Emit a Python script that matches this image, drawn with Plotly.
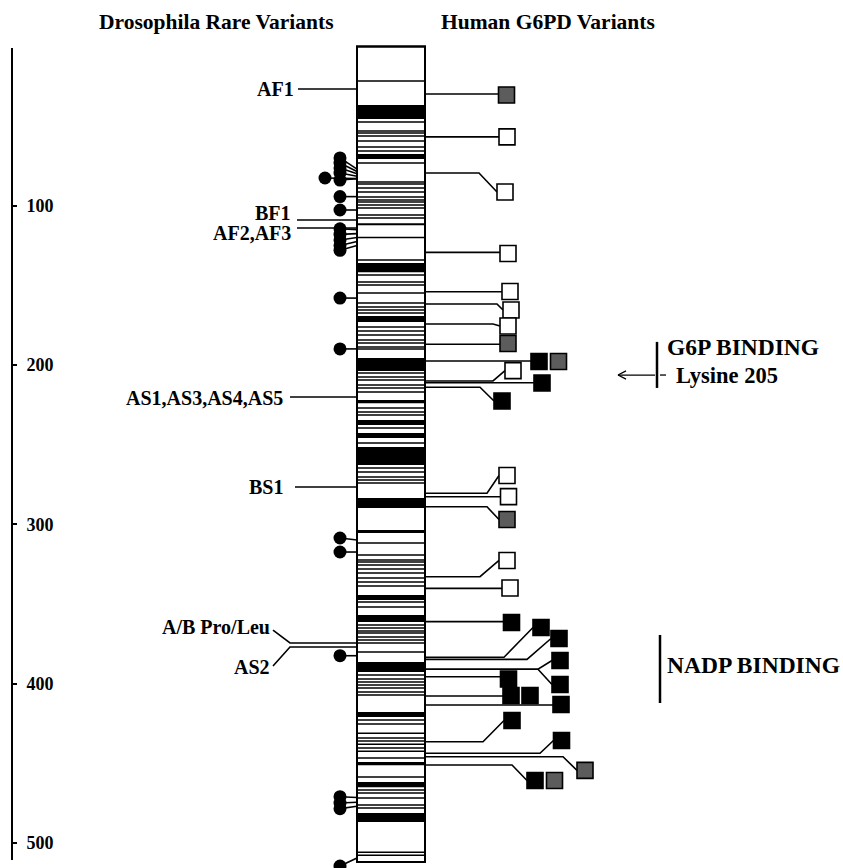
import plotly.graph_objects as go

# ---------------- data (residue numbers) ----------------
PROTEIN_LEN = 512
axis_ticks = [1, 100, 200, 300, 400, 500]
axis_ticktext = ["", "100", "200", "300", "400", "500"]

# conserved / structural stripes drawn on the protein bar
band_start = [36.8, 67.5, 111.0, 136.0, 169.2, 195.6, 222.0, 234.5, 242.7, 251.5,
              283.5, 303.6, 344.4, 356.9, 386.4, 417.8, 449.2, 461.8, 481.2]
band_end = [45.6, 70.7, 112.2, 141.7, 173.0, 203.7, 224.0, 237.6, 245.8, 262.8,
            289.8, 305.5, 347.5, 361.3, 392.7, 421.0, 451.2, 465.0, 486.9]
thin_lines = [21.7, 47.5, 53.1, 54.4, 56.2, 59.4, 63.1, 65.7, 73.2, 85.1, 86.4, 88.9,
              91.4, 94.5, 96.4, 97.7, 99.6, 101.4, 105.8, 107.7, 120.0, 134.1, 143.5,
              147.9, 149.8, 154.8, 161.1, 163.6, 165.5, 167.4, 176.1, 178.6, 181.1,
              184.3, 186.2, 188.7, 189.9, 205.0, 207.5, 209.4, 212.6, 214.4, 217.0,
              227.0, 229.5, 231.4, 239.5, 249.0, 264.6, 267.1, 270.3, 272.2, 274.1,
              311.7, 319.3, 322.4, 323.7, 325.6, 328.1, 330.6, 333.7, 336.2, 338.7,
              348.8, 351.9, 363.2, 365.1, 367.0, 368.2, 370.7, 372.6, 374.5, 380.1,
              394.6, 397.1, 399.0, 400.9, 402.8, 405.3, 407.1, 422.9, 425.4, 431.1,
              434.2, 436.1, 438.0, 440.5, 442.4, 446.7, 458.6, 466.8, 468.7, 471.8,
              476.2, 478.1, 505.8, 507.7]

# Drosophila labelled rare variants
dros_labels = ["AF1", "BF1", "AF2,AF3", "AS1,AS3,AS4,AS5", "BS1"]
dros_label_site = [26.7, 109.0, 114.0, 220.1, 276.6]
dros_label_textpos = [26.7, 104.8, 117.3, 220.7, 276.6]
prolue_labels = ["A/B Pro/Leu", "AS2"]
prolue_site = [374.5, 377.0]
prolue_textpos = [364.5, 389.6]

# Drosophila rare variants drawn as filled circles (circle residue, bar residue)
circle_res = [70.0, 73.2, 76.3, 79.5, 83.9, 82.6, 94.3, 102.7, 114.5, 118.0, 121.5,
              125.0, 128.0, 158.0, 189.9, 308.6, 317.4, 382.5, 471.0, 475.0, 478.5, 514.5]
circle_site = [77.0, 78.5, 80.0, 81.5, 83.0, 83.0, 94.3, 102.7, 115.0, 117.5, 120.0,
               122.5, 125.0, 158.0, 189.9, 309.9, 317.4, 382.5, 471.5, 474.5, 477.0, 509.5]
circle_outer = [0, 0, 0, 0, 0, 1, 0, 0, 0, 0, 0, 0, 0, 0, 0, 0, 0, 0, 0, 0, 0, 0]

# Human G6PD variants (squares)
hv_site = [29.9, 56.8, 79.5, 129.3, 154.0, 161.7, 174.3, 187.0, 197.5, 197.5, 210.0,
           211.1, 214.0, 280.5, 282.7, 289.0, 332.9, 340.2, 361.1, 383.5, 384.8, 391.0,
           391.0, 395.7, 407.8, 407.8, 413.4, 436.5, 443.7, 445.9, 451.1, 451.1]
hv_res = [30.5, 56.8, 91.4, 130.0, 153.9, 165.5, 175.5, 186.5, 197.8, 197.8, 203.5,
          211.3, 222.6, 269.4, 282.6, 297.0, 322.7, 340.0, 361.6, 364.8, 371.7, 385.5,
          400.6, 397.1, 407.5, 407.5, 413.1, 423.2, 435.7, 454.5, 460.8, 460.8]
hv_kind = ["grey", "white", "white", "white", "white", "white", "white", "grey",
           "black", "grey", "white", "black", "black", "white", "white", "grey",
           "white", "white", "black", "black", "black", "black", "black", "black",
           "black", "black", "black", "black", "black", "grey", "black", "grey"]
hv_linked = [1, 1, 1, 1, 1, 1, 1, 1, 1, 0, 1, 1, 1, 1, 1, 1, 1, 1, 1, 1, 1, 1, 1,
             1, 1, 0, 1, 1, 1, 1, 1, 0]

# binding regions
g6p_region = [185.5, 214.4]
lysine_res = 206.3
nadp_region = [369.5, 412.2]

# ---------------- layout helpers (horizontal placement, reference pixels) ----------------
W, H = 843, 868
BAR_L, BAR_R = 357, 425
CIRCLE_X = [340, 325]
hv_x = [506.5, 507, 505, 508, 510, 511, 508, 508, 539, 558.5, 513, 542, 502, 507, 508.5,
        507, 507, 510, 511.5, 541, 559, 560, 560, 508.5, 511, 530, 561, 512, 561.5,
        585, 535, 554.5]
hv_elbow = [None, None, 479, None, None, 497, 493, None, None, None, 493, None, 480, 487,
            None, 487, 480, None, None, 504, 527, 538, 538, None, None, None, None, 483,
            540, 563, 512, 512]
dros_line_x0 = [298, 297, 297, 290, 295]
dros_text_x = [296, 293, 293, 285, 285]
HALF = 8

# vertical mapping: residue r -> pixel 46.4 + 1.593 r
def px_to_res(p):
    return (p - 46.4) / 1.593

Y_TOP = px_to_res(0)
Y_BOT = px_to_res(H)
AX_TOP_PX, AX_BOT_PX = 48, 860

FONT = "Liberation Serif, Times New Roman, serif"

fig = go.Figure()

# connector lines
lx, ly = [], []
for i, s in enumerate(hv_site):
    if not hv_linked[i]:
        continue
    end_x = hv_x[i] - HALF
    if hv_elbow[i] is None:
        lx += [BAR_R, end_x, None]
        ly += [s, s, None]
    else:
        lx += [BAR_R, hv_elbow[i], end_x, None]
        ly += [s, s, hv_res[i], None]
for i, s in enumerate(circle_site):
    lx += [CIRCLE_X[circle_outer[i]], BAR_L, None]
    ly += [circle_res[i], s, None]
for i, s in enumerate(dros_label_site):
    lx += [dros_line_x0[i], BAR_L, None]
    ly += [s, s, None]
# Pro/Leu & AS2 bracket
lx += [273, 290, BAR_L, None, 273, 290, BAR_L, None]
ly += [366.5, prolue_site[0], prolue_site[0], None, 389.0, prolue_site[1], prolue_site[1], None]
fig.add_trace(go.Scatter(x=lx, y=ly, mode="lines", line=dict(color="black", width=1.6),
                         hoverinfo="skip", showlegend=False, cliponaxis=False))

# binding-region bars and arrow
fig.add_trace(go.Scatter(x=[657, 657, None, 660, 660],
                         y=[g6p_region[0], g6p_region[1], None, nadp_region[0], nadp_region[1]],
                         mode="lines", line=dict(color="black", width=2.5),
                         hoverinfo="skip", showlegend=False))
fig.add_trace(go.Scatter(x=[660, 666, None, 655, 618, None, 618, 626, None, 618, 626],
                         y=[lysine_res, lysine_res, None, lysine_res, lysine_res, None,
                            lysine_res, lysine_res - 2.6, None, lysine_res, lysine_res + 2.6],
                         mode="lines", line=dict(color="black", width=1.3),
                         hoverinfo="skip", showlegend=False))

# circles
fig.add_trace(go.Scatter(x=[CIRCLE_X[o] for o in circle_outer], y=circle_res, mode="markers",
                         marker=dict(symbol="circle", size=13, color="black"),
                         hoverinfo="skip", showlegend=False, cliponaxis=False))

# squares
fillmap = {"white": "white", "black": "black", "grey": "#5c5c5c"}
for kind in ["white", "black", "grey"]:
    idx = [i for i, k in enumerate(hv_kind) if k == kind]
    fig.add_trace(go.Scatter(x=[hv_x[i] for i in idx], y=[hv_res[i] for i in idx],
                             mode="markers",
                             marker=dict(symbol="square", size=16, color=fillmap[kind],
                                         line=dict(color="black", width=1.6)),
                             hoverinfo="skip", showlegend=False))

# axis carrier trace
fig.add_trace(go.Scatter(x=[None], y=[None], xaxis="x", yaxis="y2", showlegend=False))

# protein bar
shapes = [dict(type="rect", xref="x", yref="y", x0=BAR_L, x1=BAR_R, y0=0, y1=PROTEIN_LEN,
               fillcolor="white", line=dict(color="black", width=2), layer="below")]
for a, b in zip(band_start, band_end):
    shapes.append(dict(type="rect", xref="x", yref="y", x0=BAR_L, x1=BAR_R, y0=a, y1=b,
                       fillcolor="black", line=dict(width=0)))
for r in thin_lines:
    shapes.append(dict(type="line", xref="x", yref="y", x0=BAR_L, x1=BAR_R, y0=r, y1=r,
                       line=dict(color="black", width=1.5)))
shapes.append(dict(type="rect", xref="x", yref="y", x0=BAR_L, x1=BAR_R, y0=0, y1=PROTEIN_LEN,
                   fillcolor="rgba(0,0,0,0)", line=dict(color="black", width=2)))

ann = []
def txt(x, y, t, size, anchor="right"):
    ann.append(dict(x=x, y=y, xref="x", yref="y", text=t, showarrow=False, xanchor=anchor,
                    yanchor="middle", font=dict(family=FONT, size=size, color="black",
                                                weight="bold")))

for i, t in enumerate(dros_labels):
    txt(dros_text_x[i], dros_label_textpos[i], t, 20)
for i, t in enumerate(prolue_labels):
    txt(272, prolue_textpos[i], t, 20)
txt(216.5, px_to_res(22), "Drosophila Rare Variants", 21.5, "center")
txt(548, px_to_res(22), "Human G6PD Variants", 21.5, "center")
txt(665, 188.6, "G6P BINDING", 23.5, "left")
txt(674, lysine_res, "Lysine 205", 22.5, "left")
txt(665, 388.3, "NADP BINDING", 23.5, "left")

fig.update_layout(
    width=W, height=H, margin=dict(l=13, r=0, t=0, b=0),
    paper_bgcolor="white", plot_bgcolor="rgba(0,0,0,0)",
    xaxis=dict(range=[13, 843], visible=False, domain=[0, 1], fixedrange=True),
    yaxis=dict(range=[Y_BOT, Y_TOP], visible=False, domain=[0, 1]),
    yaxis2=dict(range=[px_to_res(AX_BOT_PX), px_to_res(AX_TOP_PX)],
                domain=[(H - AX_BOT_PX) / H, (H - AX_TOP_PX) / H],
                anchor="x", showline=True, linecolor="black", linewidth=2, showgrid=False,
                zeroline=False, ticks="inside", ticklen=4, tickwidth=2, tickcolor="black",
                tickvals=axis_ticks, ticktext=axis_ticktext, ticklabelposition="inside",
                ticklabelstandoff=10,
                tickfont=dict(family=FONT, size=18, color="black", weight="bold")),
    shapes=shapes, annotations=ann, showlegend=False, hovermode=False,
)

fig.write_html("out.html", config={"displayModeBar": False, "staticPlot": True},
               post_script="document.body.style.margin='0';document.body.style.overflow='hidden';")
